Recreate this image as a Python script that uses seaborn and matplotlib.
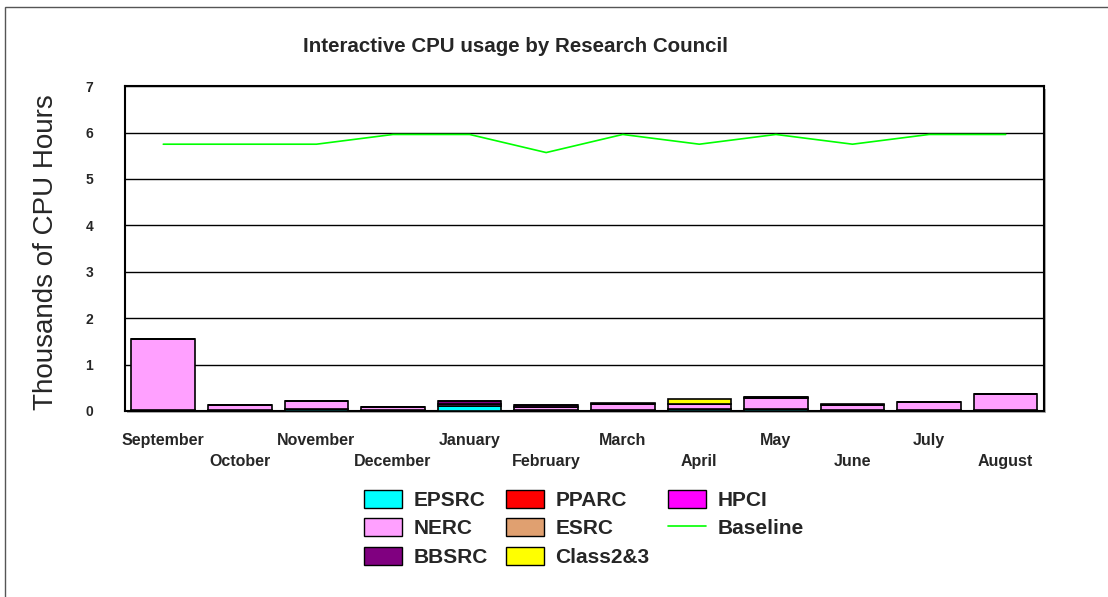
import numpy as np
import pandas as pd
import matplotlib
matplotlib.use("Agg")
import matplotlib.pyplot as plt
import seaborn as sns
from matplotlib.patches import Rectangle, Patch
from matplotlib.lines import Line2D

months = ["September", "October", "November", "December", "January", "February",
          "March", "April", "May", "June", "July", "August"]

# thousands of CPU hours
epsrc = [0.00, 0.00, 0.04, 0.00, 0.10, 0.00, 0.00, 0.04, 0.04, 0.00, 0.00, 0.00]
pparc = [0.03, 0.02, 0.00, 0.02, 0.00, 0.02, 0.03, 0.00, 0.00, 0.02, 0.02, 0.02]
hpci = [0.00, 0.00, 0.00, 0.00, 0.00, 0.00, 0.00, 0.00, 0.00, 0.00, 0.00, 0.00]
nerc = [1.52, 0.10, 0.18, 0.07, 0.06, 0.07, 0.11, 0.11, 0.23, 0.10, 0.17, 0.35]
esrc = [0.00, 0.00, 0.00, 0.00, 0.00, 0.00, 0.00, 0.00, 0.00, 0.00, 0.00, 0.00]
bbsrc = [0.00, 0.00, 0.00, 0.00, 0.05, 0.04, 0.00, 0.00, 0.03, 0.00, 0.00, 0.00]
class23 = [0.00, 0.00, 0.00, 0.00, 0.00, 0.00, 0.03, 0.11, 0.00, 0.03, 0.00, 0.00]
baseline = [5.75, 5.75, 5.75, 5.96, 5.96, 5.57, 5.96, 5.75, 5.96, 5.75, 5.96, 5.96]

series = [
    ("EPSRC", epsrc, "#00FFFF"),
    ("PPARC", pparc, "#FF0000"),
    ("HPCI", hpci, "#FF00FF"),
    ("NERC", nerc, "#FFA0FF"),
    ("ESRC", esrc, "#E0A070"),
    ("BBSRC", bbsrc, "#800080"),
    ("Class2&3", class23, "#FFFF00"),
]

sns.set_style("white")
plt.rcParams["font.family"] = ["Liberation Sans", "DejaVu Sans"]

fig = plt.figure(figsize=(11.08, 5.97), dpi=100)
ax_pos = [0.1128, 0.3116, 0.8294, 0.544]
ax = fig.add_axes(ax_pos)
ax.set_zorder(2)

# shadow behind the plot area
fig.patches.append(Rectangle((ax_pos[0] + 0.002, ax_pos[1] - 0.004), ax_pos[2], ax_pos[3],
                             transform=fig.transFigure, facecolor="#b0b0b0",
                             edgecolor="none", zorder=0))
# frame round the picture (right and bottom edges fall outside)
fig.patches.append(Rectangle((0.0045, -0.05), 1.2, 1.038, transform=fig.transFigure,
                             facecolor="none", edgecolor="#555555", linewidth=1.0,
                             zorder=0))

bottom = np.zeros(len(months))
for name, vals, color in series:
    sns.barplot(x=months, y=vals, bottom=bottom, color=color, edgecolor="black",
                linewidth=1.2, width=0.83, saturation=1, ax=ax, zorder=3)
    bottom = bottom + np.array(vals)

sns.lineplot(x=months, y=baseline, sort=False, color="#00FF00", linewidth=1.2,
             ax=ax, zorder=4)

ax.set_facecolor("white")
ax.set_ylim(0, 7)
ax.set_xlim(-0.5, len(months) - 0.5)
ax.set_yticks(range(8))
ax.set_yticklabels([str(i) for i in range(8)], fontsize=10, fontweight="bold")
ax.yaxis.grid(True, color="black", linewidth=1.0, zorder=1)
ax.set_axisbelow(True)
ax.tick_params(axis="y", length=0, pad=23)
ax.tick_params(axis="x", length=0, pad=16)

xlabels = [m if i % 2 == 0 else "\n" + m for i, m in enumerate(months)]
ax.set_xticks(range(len(months)))
ax.set_xticklabels(xlabels, fontsize=11.5, fontweight="bold", linespacing=1.5)

for side in ["left", "right", "top", "bottom"]:
    ax.spines[side].set_visible(True)
    ax.spines[side].set_color("black")
    ax.spines[side].set_linewidth(1.5)

ax.set_xlabel("")
ax.set_ylabel("Thousands of CPU Hours", fontsize=20)
ax.yaxis.set_label_coords(-0.072, 0.49)

fig.text(0.4655, 0.922, "Interactive CPU usage by Research Council",
         ha="center", va="center", fontsize=14.8, fontweight="bold")

# legend, filled column by column so rows read like the original
color_of = {name: color for name, _, color in series}
order = ["EPSRC", "NERC", "BBSRC", "PPARC", "ESRC", "Class2&3", "HPCI", "Baseline"]
handles = []
for name in order:
    if name == "Baseline":
        handles.append(Line2D([0], [0], color="#00FF00", linewidth=1.2))
    else:
        handles.append(Patch(facecolor=color_of[name], edgecolor="black", linewidth=1.0))
leg = fig.legend(handles, order, loc="center", bbox_to_anchor=(0.527, 0.115), ncol=3,
                 frameon=False, prop={"size": 15, "weight": "bold"},
                 handlelength=1.8, handleheight=0.95, handletextpad=0.55,
                 columnspacing=0.9, labelspacing=0.4)

fig.savefig("out.png", dpi=100)
